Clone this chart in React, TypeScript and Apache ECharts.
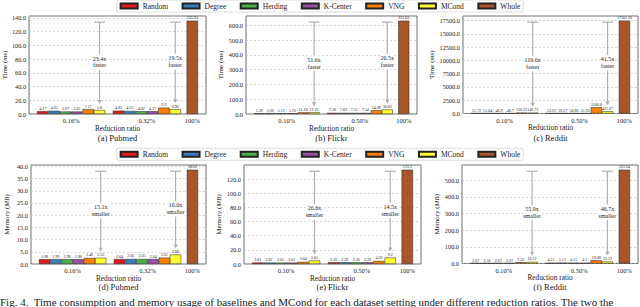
import React, { useEffect, useRef } from 'react';
import * as echarts from 'echarts';

// ---------- data ----------
const methods = ['Random', 'Degree', 'Herding', 'K-Center', 'VNG', 'MCond'];
const wholeName = 'Whole';
const methodColors = ['#e41a1c', '#377eb8', '#4daf4a', '#984ea3', '#ff7f00', '#ffff33'];
const wholeColor = '#a65628';

const pubmedRatios = ['0.16%', '0.32%', '100%'];
const otherRatios = ['0.10%', '0.50%', '100%'];

// Time (ms)
const pubmedTimeLow = [4.17, 4.65, 3.67, 3.63, 7.17, 5.8];
const pubmedTimeHigh = [4.83, 4.55, 4.02, 4.17, 9.2, 6.96];
const pubmedTimeWhole = 135.93;
const pubmedTimeFactors = ['23.4x', '19.5x'];

const flickrTimeLow = [5.39, 5.66, 5.12, 5.16, 11.18, 12.22];
const flickrTimeHigh = [7.38, 7.82, 7.51, 7.34, 24.98, 30.83];
const flickrTimeWhole = 631.03;
const flickrTimeFactors = ['51.6x', '20.5x'];

const redditTimeLow = [51.72, 51.04, 48.9, 48.7, 156.23, 146.73];
const redditTimeHigh = [53.62, 59.37, 50.86, 51.93, 1160.8, 421.67];
const redditTimeWhole = 17501.16;
const redditTimeFactors = ['119.6x', '41.5x'];

// Memory (MB)
const pubmedMemLow = [1.98, 1.99, 1.98, 1.98, 2.48, 2.55];
const pubmedMemHigh = [2.04, 2.05, 2.05, 2.04, 2.61, 3.88];
const pubmedMemWhole = 38.62;
const pubmedMemFactors = ['15.1x', '10.0x'];

const flickrMemLow = [2.01, 2.02, 2.01, 2.01, 3.04, 5.01];
const flickrMemHigh = [2.36, 2.39, 2.36, 2.36, 4.26, 9.2];
const flickrMemWhole = 133.3;
const flickrMemFactors = ['26.6x', '14.5x'];

const redditMemLow = [2.67, 2.56, 2.67, 2.67, 7.33, 10.12];
const redditMemHigh = [4.11, 5.12, 4.11, 4.1, 19.08, 12.12];
const redditMemWhole = 563.94;
const redditMemFactors = ['55.9x', '46.7x'];

const yTicksInterval = [20, 100, 2500, 5, 20, 100];
const captions = ['(a) Pubmed', '(b) Flickr', '(c) Reddit', '(d) Pubmed', '(e) Flickr', '(f) Reddit'];

// ---------- layout ----------
const FONT = "'Liberation Serif', 'DejaVu Serif', serif";
const GROUP_POS = [0, 1, 1.6];
const BAR_W = 0.15;
const X_MIN = -0.556;
const X_MAX = 1.781;

const grids = [
  { left: 29, top: 16, width: 177, height: 98, nameGap: 18.5 },
  { left: 246, top: 16, width: 171, height: 98, nameGap: 19.5 },
  { left: 463, top: 16, width: 175, height: 97.5, nameGap: 26.5 },
  { left: 31, top: 165, width: 175, height: 99, nameGap: 20.5 },
  { left: 244, top: 165, width: 177, height: 99, nameGap: 20 },
  { left: 462, top: 165, width: 176, height: 98.5, nameGap: 20.5 },
];

const panels = [
  { ticks: pubmedRatios, low: pubmedTimeLow, high: pubmedTimeHigh, whole: pubmedTimeWhole, factors: pubmedTimeFactors, word: 'faster', metric: 'time' },
  { ticks: otherRatios, low: flickrTimeLow, high: flickrTimeHigh, whole: flickrTimeWhole, factors: flickrTimeFactors, word: 'faster', metric: 'time' },
  { ticks: otherRatios, low: redditTimeLow, high: redditTimeHigh, whole: redditTimeWhole, factors: redditTimeFactors, word: 'faster', metric: 'time' },
  { ticks: pubmedRatios, low: pubmedMemLow, high: pubmedMemHigh, whole: pubmedMemWhole, factors: pubmedMemFactors, word: 'smaller', metric: 'mem' },
  { ticks: otherRatios, low: flickrMemLow, high: flickrMemHigh, whole: flickrMemWhole, factors: flickrMemFactors, word: 'smaller', metric: 'mem' },
  { ticks: otherRatios, low: redditMemLow, high: redditMemHigh, whole: redditMemWhole, factors: redditMemFactors, word: 'smaller', metric: 'mem' },
];

function buildOption() {
  const grid: any[] = [];
  const xAxis: any[] = [];
  const yAxis: any[] = [];
  const series: any[] = [];
  const graphic: any[] = [];

  panels.forEach((p, i) => {
    const g = grids[i];
    grid.push({
      left: g.left, top: g.top, width: g.width, height: g.height,
      show: true, borderColor: '#4a4a4a', borderWidth: 0.8, backgroundColor: 'transparent',
    });
    const pxPerUnit = g.width / (X_MAX - X_MIN);
    const barPx = BAR_W * pxPerUnit;
    xAxis.push({
      gridIndex: i, type: 'value', min: X_MIN, max: X_MAX,
      name: 'Reduction ratio', nameLocation: 'middle', nameGap: 8.5,
      nameTextStyle: { fontSize: 7.3, fontFamily: FONT, color: '#222' },
      axisLine: { show: false }, axisTick: { show: false }, splitLine: { show: false },
      axisLabel: {
        customValues: GROUP_POS, margin: 3, fontSize: 6.5, fontFamily: FONT, color: '#222',
        formatter: (v: number) => {
          const k = GROUP_POS.findIndex((q) => Math.abs(q - v) < 1e-6);
          return k >= 0 ? p.ticks[k] : '';
        },
      },
    });
    yAxis.push({
      gridIndex: i, type: 'value', min: 0, max: p.whole * 1.05, interval: yTicksInterval[i],
      name: p.metric === 'time' ? 'Time ({i|ms})' : 'Memory ({i|MB})',
      nameLocation: 'middle', nameGap: g.nameGap,
      nameTextStyle: { fontSize: 7, fontFamily: FONT, color: '#222', rich: { i: { fontStyle: 'italic', fontSize: 7, fontFamily: FONT, color: '#222' } } },
      axisLine: { show: false }, axisTick: { show: false },
      splitLine: { show: true, lineStyle: { type: [2, 2], color: '#bdbdbd', width: 0.6 } },
      axisLabel: { showMaxLabel: false, margin: 3, fontSize: 6.3, fontFamily: FONT, color: '#222', formatter: (v: number) => v.toFixed(1) },
    });

    const barBase = {
      type: 'bar', xAxisIndex: i, yAxisIndex: i, barWidth: barPx, barGap: '-100%',
      label: { show: true, position: 'top', distance: 1, fontSize: 4, fontFamily: FONT, color: '#222', formatter: (d: any) => String(d.value[1]) },
    };
    methods.forEach((m, j) => {
      const off = (j - 2.5) * BAR_W;
      series.push({
        ...barBase, name: m,
        itemStyle: { color: methodColors[j], borderColor: '#222', borderWidth: 0.5 },
        data: [[GROUP_POS[0] + off, p.low[j]], [GROUP_POS[1] + off, p.high[j]]],
      });
    });
    series.push({
      ...barBase, name: wholeName,
      itemStyle: { color: wholeColor, borderColor: '#222', borderWidth: 0.5 },
      data: [[GROUP_POS[2], p.whole]],
    });

    const mcondOff = 2.5 * BAR_W;
    series.push({
      type: 'custom', xAxisIndex: i, yAxisIndex: i, silent: true, z: 5,
      data: [
        [GROUP_POS[0] + mcondOff, p.whole, p.low[5]],
        [GROUP_POS[1] + mcondOff, p.whole, p.high[5]],
      ],
      renderItem: (params: any, api: any) => {
        const x = api.value(0);
        const p1 = api.coord([x, api.value(1)]);
        const p2 = api.coord([x, api.value(2)]);
        const cx = p1[0];
        const yTop = p1[1] + 1.5;
        const yTip = p2[1] - 6;
        const mid = (yTop + yTip) / 2 - 1;
        const stroke = '#b0b0b0';
        return {
          type: 'group',
          children: [
            { type: 'line', shape: { x1: cx, y1: yTop, x2: cx, y2: yTip - 3 }, style: { stroke, lineWidth: 1.2 } },
            { type: 'line', shape: { x1: cx - 5.5, y1: yTop, x2: cx + 5.5, y2: yTop }, style: { stroke, lineWidth: 1.2 } },
            { type: 'polygon', shape: { points: [[cx - 2.2, yTip - 4], [cx + 2.2, yTip - 4], [cx, yTip]] }, style: { fill: stroke } },
            {
              type: 'text', x: cx, y: mid,
              style: {
                text: p.factors[params.dataIndex] + '\n' + p.word,
                align: 'center', verticalAlign: 'middle', fontSize: 6, lineHeight: 6.8,
                fontFamily: FONT, fill: '#222', backgroundColor: '#fff', padding: [1, 0],
              },
            },
          ],
        };
      },
    });

    graphic.push({
      type: 'text', x: g.left + g.width / 2, y: i < 3 ? 137.5 : 287,
      style: { text: captions[i], align: 'center', verticalAlign: 'middle', fontSize: 8.5, fontFamily: FONT, fill: '#222' },
    });
  });

  graphic.push({
    type: 'text', x: 0, y: 296.5,
    style: {
      text: 'Fig. 4.  Time consumption and memory usage of baselines and MCond for each dataset setting under different reduction ratios. The two the',
      align: 'left', verticalAlign: 'top', fontSize: 11, fontFamily: FONT, fill: '#222',
    },
  });

  const legendNames = [...methods, wholeName];
  const legend = [0, 148.3].map((top) => ({
    top, left: 'center', data: legendNames, icon: 'rect', itemWidth: 17, itemHeight: 5, itemGap: 13.5,
    selectedMode: false, padding: [2, 3], borderColor: '#d4d4d4', borderWidth: 0.8, borderRadius: 2,
    backgroundColor: '#fff', textStyle: { fontSize: 7.5, fontFamily: FONT, color: '#222' },
  }));

  return {
    animation: false,
    backgroundColor: '#fff',
    textStyle: { fontFamily: FONT },
    grid, xAxis, yAxis, series, legend, graphic,
  };
}

export default function App() {
  const ref = useRef<HTMLDivElement>(null);
  useEffect(() => {
    document.body.style.margin = '0';
    const chart = echarts.init(ref.current!, undefined, { renderer: 'svg' });
    chart.setOption(buildOption() as any);
    return () => chart.dispose();
  }, []);
  return <div ref={ref} style={{ width: 640, height: 307, position: 'absolute', left: 0, top: 0 }} />;
}
